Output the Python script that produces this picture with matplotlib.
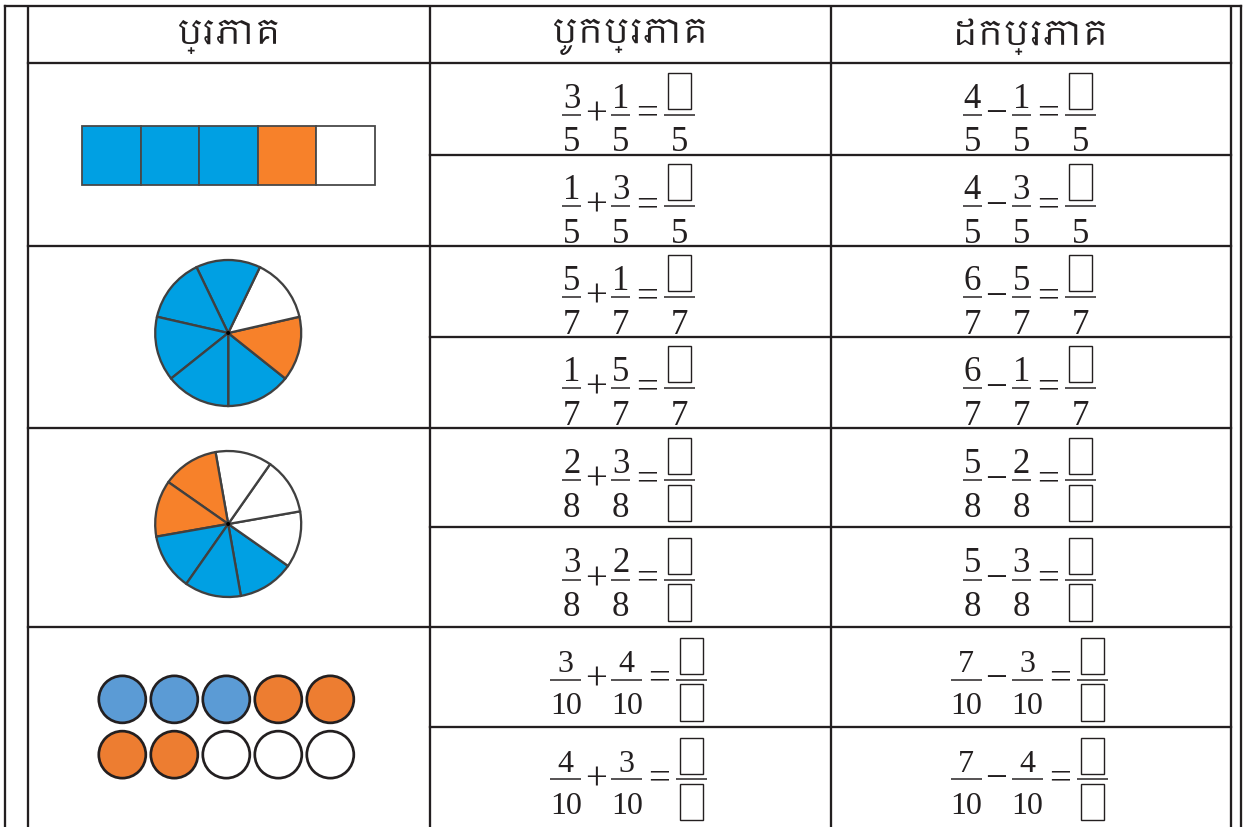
import matplotlib
matplotlib.use('Agg')
import matplotlib.pyplot as plt
import matplotlib.patches as patches
from matplotlib import font_manager

W, H = 1246, 828

# Table text
headers = ['ប្រភាគ', 'បូកប្រភាគ', 'ដកប្រភាគ']

# Exercises: (first numerator, second numerator, denominator, denominator given?)
add_rows = [(3, 1, 5, True), (1, 3, 5, True), (5, 1, 7, True), (1, 5, 7, True),
            (2, 3, 8, False), (3, 2, 8, False), (3, 4, 10, False), (4, 3, 10, False)]
sub_rows = [(4, 1, 5, True), (4, 3, 5, True), (6, 5, 7, True), (6, 1, 7, True),
            (5, 2, 8, False), (5, 3, 8, False), (7, 3, 10, False), (7, 4, 10, False)]

# Pictures in the first column
bar_parts = ['blue', 'blue', 'blue', 'orange', 'white']
pie7_parts = ['blue', 'orange', 'white', 'blue', 'blue', 'blue', 'blue']   # counter-clockwise
pie7_start = -90
pie8_parts = ['blue', 'white', 'white', 'white', 'orange', 'orange', 'blue', 'blue']
pie8_start = -80
dot_parts = ['blue', 'blue', 'blue', 'orange', 'orange',
             'orange', 'orange', 'white', 'white', 'white']

# Geometry of the table (pixels)
col_edges = [28, 430, 831, 1231]
row_edges = [8, 64, 156, 247, 338, 429, 528, 628, 728, 828]

LINE = '#231f20'
FILL = {'blue': '#00a0e3', 'orange': '#f7812a', 'white': 'white'}
DOT_FILL = {'blue': '#5b9bd5', 'orange': '#ed7d31', 'white': 'white'}
SERIF = 'Liberation Serif'

names = {f.name for f in font_manager.fontManager.ttflist}
khmer = sorted(n for n in names if 'Khmer' in n)
head_family = khmer[:1] + ['DejaVu Sans']


def px(p):
    # pixel length -> points at dpi 100
    return p * 0.72


def draw_fraction(ax, x0, w, bar_y, num, den, fs, show_den=True, box=False):
    ax.plot([x0, x0 + w], [bar_y, bar_y], color=LINE, lw=px(1.5), solid_capstyle='butt')
    digit_h = 0.676 * fs / 0.72
    cx = x0 + w / 2
    if box:
        ax.add_patch(patches.Rectangle((x0 + 4, bar_y - 6 - 36), w - 8, 36,
                                       fill=False, ec=LINE, lw=px(1.4)))
    else:
        ax.text(cx, bar_y - 8, str(num), fontsize=fs, family=SERIF,
                ha='center', va='baseline', color=LINE)
    if show_den:
        ax.text(cx, bar_y + 12.3 + digit_h, str(den), fontsize=fs, family=SERIF,
                ha='center', va='baseline', color=LINE)
    else:
        ax.add_patch(patches.Rectangle((x0 + 4, bar_y + 4.5), w - 8, 36.5,
                                       fill=False, ec=LINE, lw=px(1.4)))


def draw_equation(ax, cx, cy, a, b, den, known, op):
    two = den >= 10
    fs = 23 if two else 25
    w = 31 if two else 19
    rw = 31
    total = 2 * w + 64 + rw
    bar_y = cy + (5.5 if known else 2.5)
    x0 = cx - total / 2 - 1.7
    draw_fraction(ax, x0, w, bar_y, a, den, fs)
    op_x = x0 + w + 14.5
    ax.text(op_x, bar_y + 9, op, fontsize=28, family=SERIF, ha='center',
            va='baseline', color=LINE)
    x2 = op_x + 15.5
    draw_fraction(ax, x2, w, bar_y, b, den, fs)
    eq_x = x2 + w + 17
    ax.text(eq_x, bar_y + 9, '=', fontsize=28, family=SERIF, ha='center',
            va='baseline', color=LINE)
    xr = eq_x + 17
    draw_fraction(ax, xr, rw, bar_y, None, den, fs, show_den=known, box=True)


def draw_pie(ax, cx, cy, r, parts, start):
    step = 360 / len(parts)
    for i, c in enumerate(parts):
        a1 = start + i * step
        a2 = a1 + step
        # y axis is inverted, so visual angles are mirrored
        ax.add_patch(patches.Wedge((cx, cy), r, -a2, -a1, fc=FILL[c],
                                   ec='#404040', lw=px(2.3)))
    ax.add_patch(patches.Circle((cx, cy), 2, fc='black', ec='none'))


fig = plt.figure(figsize=(W / 100, H / 100), dpi=100)
ax = fig.add_axes([0, 0, 1, 1])
ax.set_xlim(0, W)
ax.set_ylim(H, 0)
ax.axis('off')

lw = px(2.3)
# outer frame
ax.plot([5, 1241], [7, 7], color=LINE, lw=lw)
ax.plot([5, 5], [7, H], color=LINE, lw=lw)
ax.plot([1241, 1241], [7, H], color=LINE, lw=lw)
# column lines
for x in col_edges:
    ax.plot([x, x], [row_edges[0], H], color=LINE, lw=lw)
# row lines (first column cells span two rows)
for i, y in enumerate(row_edges[1:-1], start=1):
    x_start = col_edges[0] if i % 2 == 1 else col_edges[1]
    ax.plot([x_start, col_edges[-1]], [y, y], color=LINE, lw=lw)

# headers
for j, t in enumerate(headers):
    ax.text((col_edges[j] + col_edges[j + 1]) / 2, 37, t, fontsize=25,
            family=head_family, ha='center', va='center', color=LINE)

# equations
for i in range(len(add_rows)):
    cy = (row_edges[i + 1] + row_edges[i + 2]) / 2
    a, b, den, known = add_rows[i]
    draw_equation(ax, (col_edges[1] + col_edges[2]) / 2, cy, a, b, den, known, '+')
    a, b, den, known = sub_rows[i]
    draw_equation(ax, (col_edges[2] + col_edges[3]) / 2, cy, a, b, den, known, '\u2212')

pic_x = 228.7


def block_center(k):
    return (row_edges[1 + 2 * k] + row_edges[3 + 2 * k]) / 2


# bar of fifths
sq_w, sq_h = 58.5, 59.3
bx = pic_x - sq_w * len(bar_parts) / 2
by = block_center(0) + 0.8 - sq_h / 2
for i, c in enumerate(bar_parts):
    ax.add_patch(patches.Rectangle((bx + i * sq_w, by), sq_w, sq_h, fc=FILL[c],
                                   ec='#484848', lw=px(1.8)))

# pies
draw_pie(ax, pic_x - 0.5, block_center(1) - 4, 73, pie7_parts, pie7_start)
draw_pie(ax, pic_x - 0.5, block_center(2) - 3.5, 73, pie8_parts, pie8_start)

# ten dots
per_row = 5
gap = 52
dcy = block_center(3)
for i, c in enumerate(dot_parts):
    r, k = divmod(i, per_row)
    x = pic_x - 2.4 + (k - (per_row - 1) / 2) * gap
    y = dcy + (r - 0.5) * 55.3
    ax.add_patch(patches.Circle((x, y), 23.5, fc=DOT_FILL[c], ec=LINE, lw=px(2.7)))

fig.savefig('out.png', dpi=100)
